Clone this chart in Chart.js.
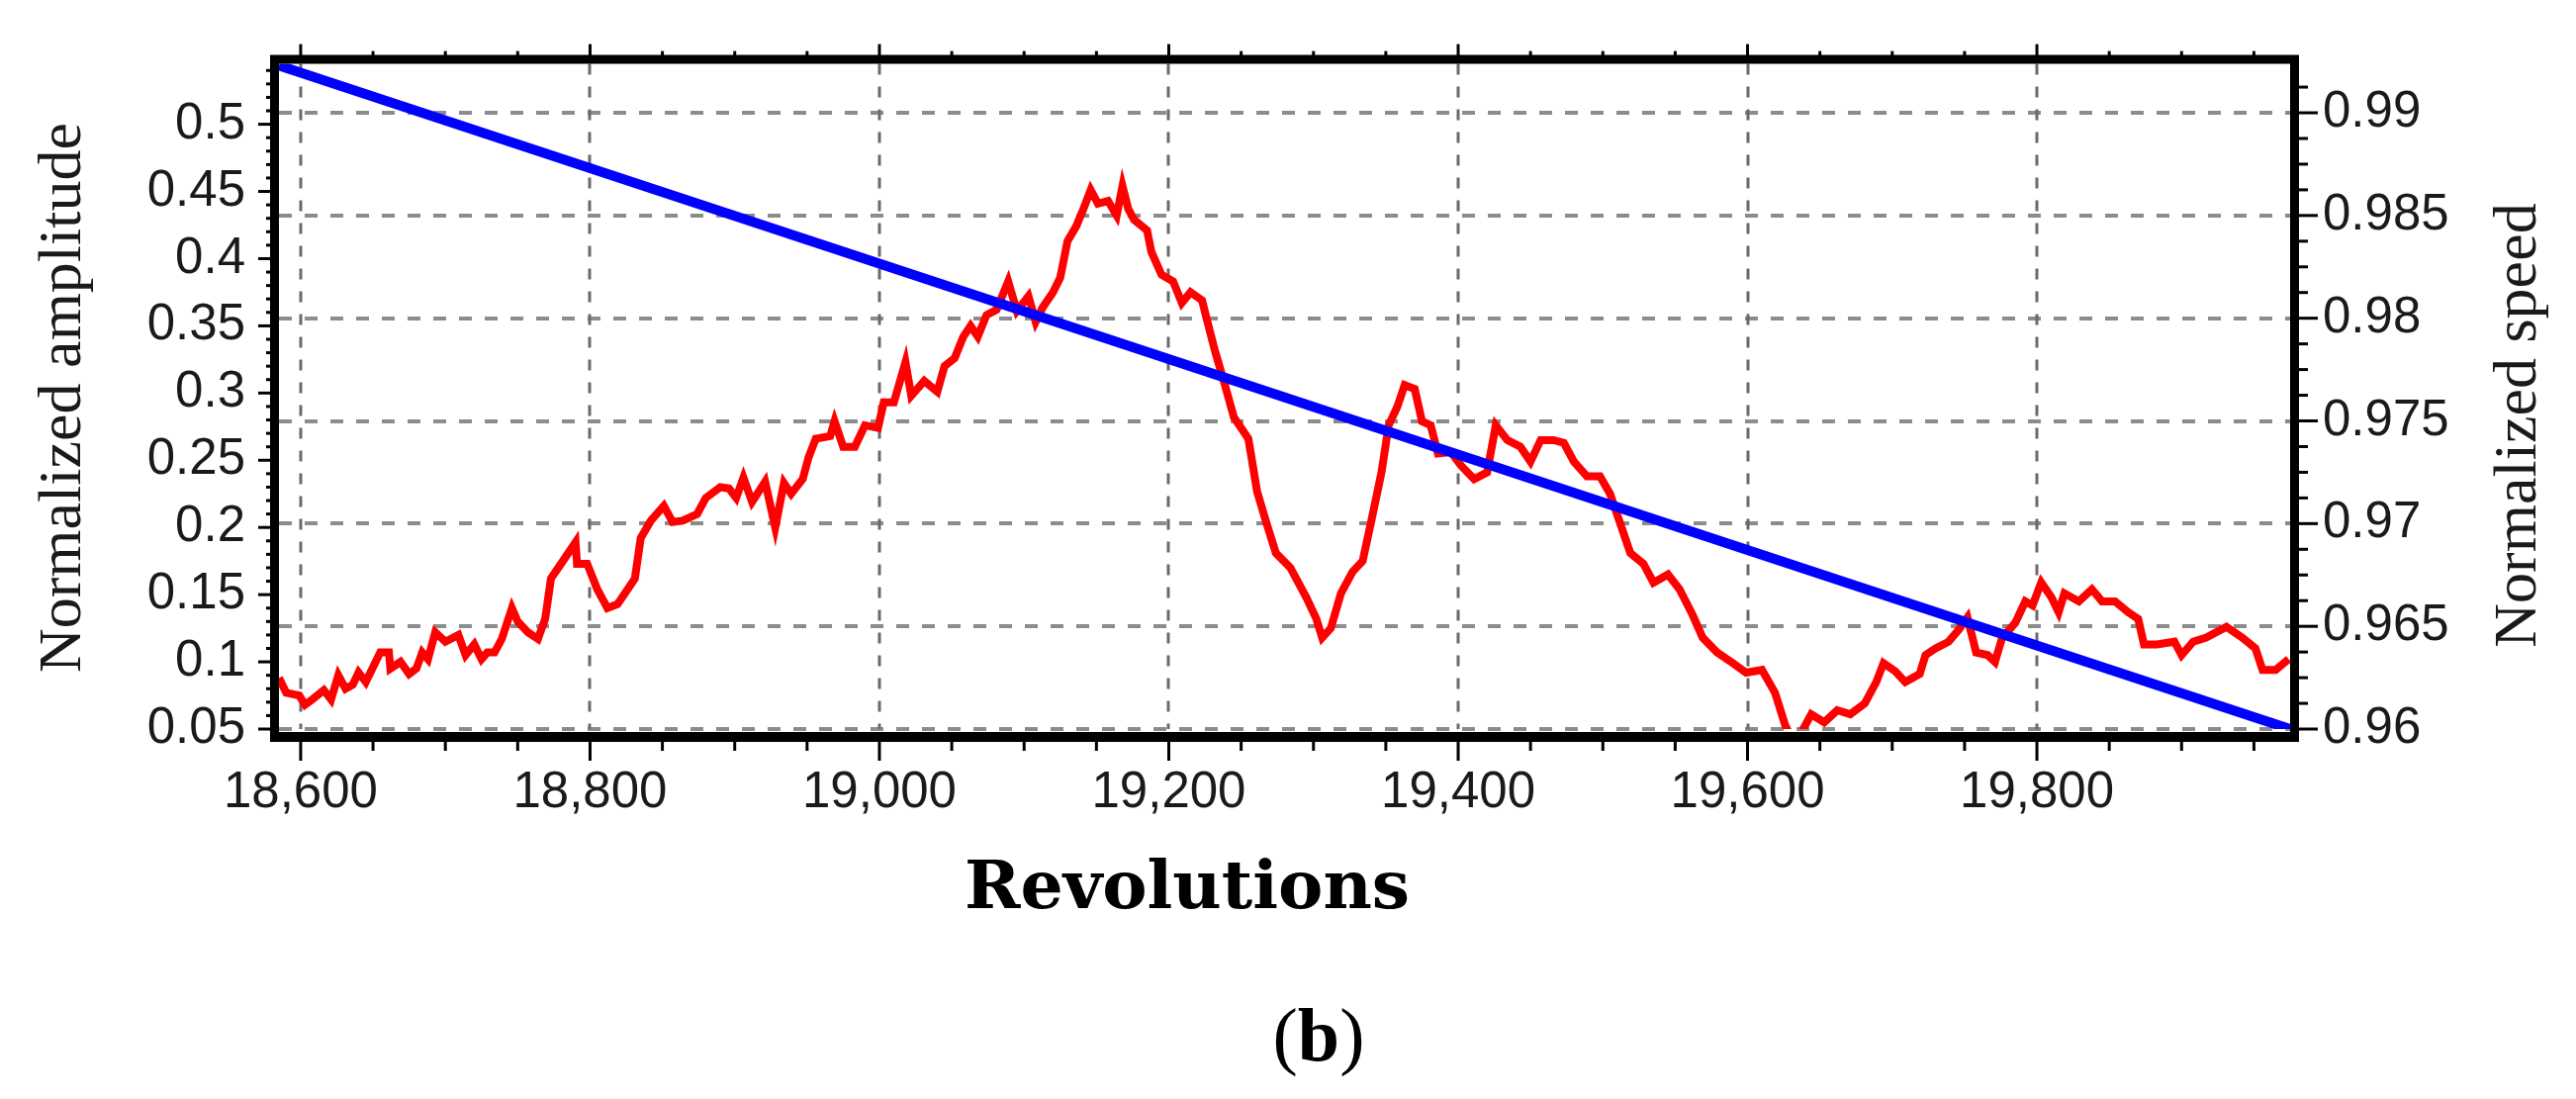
<!DOCTYPE html>
<html lang="en">
<head>
  <meta charset="UTF-8" />
  <title>Normalized amplitude and speed vs revolutions</title>
  <script src="https://cdn.jsdelivr.net/npm/chart.js"></script>
  <style>
    html, body { margin: 0; padding: 0; background: #fff; }
    #wrap { position: relative; width: 2604px; height: 1111px; }
  </style>
</head>
<body>
  <div id="wrap"><canvas id="chart"></canvas></div>
  <script>
    // red trace: normalized amplitude (left axis)
    const ampRev = [18585, 18590, 18599, 18603, 18608, 18616, 18621, 18626, 18631, 18636, 18640, 18645, 18650, 18655, 18661, 18662, 18669, 18675, 18680, 18684, 18688, 18693, 18700, 18709, 18714, 18720, 18725, 18729, 18734, 18739, 18746, 18750, 18757, 18764, 18769, 18773, 18780, 18790, 18791, 18798, 18805, 18812, 18819, 18826, 18831, 18835, 18842, 18851, 18857, 18864, 18874, 18880, 18890, 18896, 18901, 18906, 18912, 18921, 18928, 18934, 18939, 18947, 18951, 18956, 18966, 18969, 18975, 18983, 18990, 18999, 19003, 19010, 19018, 19022, 19031, 19040, 19045, 19052, 19058, 19063, 19068, 19074, 19081, 19089, 19095, 19103, 19108, 19113, 19120, 19125, 19130, 19136, 19141, 19146, 19151, 19158, 19164, 19168, 19172, 19176, 19185, 19188, 19195, 19203, 19209, 19215, 19223, 19226, 19232, 19238, 19245, 19255, 19261, 19267, 19274, 19284, 19295, 19302, 19306, 19312, 19319, 19327, 19334, 19340, 19347, 19352, 19358, 19363, 19370, 19375, 19381, 19386, 19395, 19402, 19411, 19420, 19426, 19434, 19443, 19450, 19457, 19466, 19473, 19480, 19489, 19498, 19505, 19512, 19519, 19528, 19535, 19545, 19553, 19562, 19569, 19579, 19590, 19599, 19610, 19619, 19626, 19630, 19637, 19644, 19653, 19662, 19671, 19681, 19689, 19694, 19702, 19709, 19719, 19723, 19730, 19739, 19746, 19752, 19758, 19766, 19771, 19776, 19785, 19792, 19797, 19803, 19810, 19815, 19819, 19829, 19838, 19845, 19854, 19863, 19870, 19874, 19883, 19895, 19900, 19908, 19917, 19931, 19942, 19951, 19956, 19965, 19974];
    const ampVal = [0.088, 0.077, 0.075, 0.068, 0.072, 0.079, 0.072, 0.090, 0.080, 0.083, 0.092, 0.085, 0.096, 0.107, 0.107, 0.095, 0.100, 0.091, 0.095, 0.107, 0.102, 0.122, 0.115, 0.120, 0.105, 0.113, 0.102, 0.107, 0.107, 0.117, 0.140, 0.130, 0.122, 0.117, 0.132, 0.162, 0.173, 0.189, 0.173, 0.173, 0.154, 0.140, 0.143, 0.154, 0.162, 0.192, 0.205, 0.216, 0.204, 0.205, 0.210, 0.222, 0.230, 0.229, 0.222, 0.237, 0.219, 0.234, 0.200, 0.233, 0.225, 0.236, 0.252, 0.266, 0.268, 0.279, 0.260, 0.260, 0.276, 0.274, 0.293, 0.293, 0.323, 0.298, 0.309, 0.301, 0.320, 0.326, 0.342, 0.350, 0.342, 0.358, 0.362, 0.383, 0.361, 0.372, 0.353, 0.364, 0.375, 0.386, 0.413, 0.424, 0.437, 0.451, 0.441, 0.443, 0.432, 0.454, 0.437, 0.429, 0.421, 0.405, 0.388, 0.383, 0.367, 0.375, 0.369, 0.356, 0.331, 0.309, 0.282, 0.266, 0.227, 0.205, 0.181, 0.170, 0.148, 0.132, 0.118, 0.125, 0.151, 0.167, 0.175, 0.205, 0.241, 0.276, 0.290, 0.306, 0.303, 0.279, 0.276, 0.255, 0.256, 0.246, 0.236, 0.241, 0.276, 0.265, 0.260, 0.249, 0.265, 0.265, 0.263, 0.249, 0.238, 0.238, 0.225, 0.203, 0.181, 0.173, 0.159, 0.165, 0.154, 0.135, 0.118, 0.107, 0.099, 0.092, 0.094, 0.077, 0.053, 0.044, 0.047, 0.061, 0.055, 0.064, 0.061, 0.069, 0.085, 0.099, 0.093, 0.085, 0.091, 0.105, 0.110, 0.115, 0.124, 0.133, 0.107, 0.105, 0.100, 0.118, 0.129, 0.145, 0.142, 0.159, 0.148, 0.137, 0.151, 0.145, 0.154, 0.145, 0.145, 0.137, 0.132, 0.113, 0.113, 0.115, 0.105, 0.115, 0.118, 0.126, 0.118, 0.110, 0.094, 0.094, 0.102];

    // blue trace: normalized speed (right axis)
    const speedRev = [18585, 19975];
    const speedVal = [0.9923, 0.9600];

    // tick labels
    const revTicks = [18600, 18800, 19000, 19200, 19400, 19600, 19800];
    const ampTicks = [0.05, 0.1, 0.15, 0.2, 0.25, 0.3, 0.35, 0.4, 0.45, 0.5];
    const speedTicks = [0.96, 0.965, 0.97, 0.975, 0.98, 0.985, 0.99];

    const tickFont = { family: 'Liberation Sans, Arial, sans-serif', size: 51 };
    const fmt = v => String(+v.toFixed(4));

    // grid, frame, minor ticks and titles
    const decor = {
      id: 'decor',
      beforeDatasetsDraw(chart) {
        const { ctx, chartArea: a, scales: { x, yR } } = chart;
        ctx.save();
        ctx.lineWidth = 4;
        ctx.strokeStyle = '#8c8c8c';
        ctx.setLineDash([13, 13]);
        speedTicks.forEach(v => {
          const py = Math.round(yR.getPixelForValue(v));
          ctx.beginPath(); ctx.moveTo(a.left, py); ctx.lineTo(a.right, py); ctx.stroke();
        });
        ctx.lineWidth = 3;
        ctx.strokeStyle = '#6a6a6a';
        ctx.setLineDash([11, 12]);
        revTicks.forEach(v => {
          const px = Math.round(x.getPixelForValue(v));
          ctx.beginPath(); ctx.moveTo(px, a.top); ctx.lineTo(px, a.bottom); ctx.stroke();
        });
        ctx.restore();
      },
      afterDatasetsDraw(chart) {
        const { ctx, chartArea: a, scales: { x, yL, yR } } = chart;
        ctx.save();
        ctx.strokeStyle = '#000';
        ctx.lineCap = 'butt';

        // ticks
        ctx.lineWidth = 3;
        const tick = (x1, y1, x2, y2) => { ctx.beginPath(); ctx.moveTo(x1, y1); ctx.lineTo(x2, y2); ctx.stroke(); };
        for (let r = 18600; r <= 19975; r += 50) {
          const px = x.getPixelForValue(r);
          const major = r % 200 === 0;
          tick(px, a.bottom + 12, px, a.bottom + (major ? 32 : 22));
          tick(px, a.top - 6, px, a.top - (major ? 20 : 13));
        }
        for (let i = 0; i <= 49; i++) {
          const v = 0.05 + i * 0.01;
          const py = yL.getPixelForValue(v);
          tick(a.left - 6, py, a.left - (i % 5 === 0 ? 21 : 13), py);
        }
        for (let i = 0; i <= 25; i++) {
          const v = 0.96 + i * 0.00125;
          const py = yR.getPixelForValue(v);
          tick(a.right + 5, py, a.right + (i % 4 === 0 ? 28 : 18), py);
        }

        // frame: left, top, right hug the plot, bottom sits just below the last grid line
        ctx.lineWidth = 9;
        ctx.beginPath();
        ctx.moveTo(a.left - 4.5, a.bottom + 13);
        ctx.lineTo(a.left - 4.5, a.top - 4.5);
        ctx.lineTo(a.right + 4.5, a.top - 4.5);
        ctx.lineTo(a.right + 4.5, a.bottom + 13);
        ctx.stroke();
        ctx.lineWidth = 10;
        ctx.beginPath();
        ctx.moveTo(a.left - 9, a.bottom + 8);
        ctx.lineTo(a.right + 9, a.bottom + 8);
        ctx.stroke();
        ctx.restore();
      },
      afterDraw(chart) {
        const { ctx } = chart;
        ctx.save();
        ctx.fillStyle = '#1a1a1a';
        ctx.textAlign = 'center';
        ctx.textBaseline = 'middle';
        ctx.font = '62px "Liberation Serif", "Times New Roman", serif';
        ctx.save(); ctx.translate(65, 402); ctx.rotate(-Math.PI / 2); ctx.fillText('Normalized amplitude', 0, 0); ctx.restore();
        ctx.save(); ctx.translate(2547, 430); ctx.rotate(-Math.PI / 2); ctx.fillText('Normalized speed', 0, 0); ctx.restore();

        ctx.textBaseline = 'alphabetic';
        ctx.fillStyle = '#000';
        ctx.font = 'bold 68px "DejaVu Serif", serif';
        ctx.fillText('Revolutions', 1200, 918);

        // caption (b)
        const reg = '76px "Liberation Serif", serif';
        const bold = 'bold 76px "Liberation Serif", serif';
        ctx.textAlign = 'left';
        ctx.font = reg; const wp = ctx.measureText('(').width; const wq = ctx.measureText(')').width;
        ctx.font = bold; const wb = ctx.measureText('b').width;
        let cx = 1333 - (wp + wb + wq) / 2;
        ctx.font = reg; ctx.fillText('(', cx, 1072); cx += wp;
        ctx.font = bold; ctx.fillText('b', cx, 1072); cx += wb;
        ctx.font = reg; ctx.fillText(')', cx, 1072);
        ctx.restore();
      }
    };

    new Chart(document.getElementById('chart'), {
      type: 'line',
      data: {
        datasets: [
          {
            label: 'Normalized speed',
            data: speedRev.map((r, i) => ({ x: r, y: speedVal[i] })),
            yAxisID: 'yR',
            borderColor: '#0000ff',
            borderWidth: 10,
            pointRadius: 0,
            tension: 0
          },
          {
            label: 'Normalized amplitude',
            data: ampRev.map((r, i) => ({ x: r, y: ampVal[i] })),
            yAxisID: 'yL',
            borderColor: '#ff0000',
            borderWidth: 8,
            borderJoinStyle: 'miter',
            pointRadius: 0,
            tension: 0
          }
        ]
      },
      options: {
        responsive: true,
        maintainAspectRatio: false,
        animation: false,
        events: [],
        layout: { padding: { top: 42, left: 0, right: 0, bottom: 0 } },
        plugins: { legend: { display: false }, tooltip: { enabled: false } },
        scales: {
          x: {
            type: 'linear',
            min: 18585,
            max: 19975,
            afterBuildTicks: s => { s.ticks = revTicks.map(v => ({ value: v })); },
            afterFit: s => { s.height = 374; },
            grid: { display: false, drawTicks: false },
            border: { display: false },
            ticks: {
              autoSkip: false, maxRotation: 0, padding: 34,
              color: '#1a1a1a', font: tickFont,
              callback: v => v.toLocaleString('en-US')
            }
          },
          yL: {
            type: 'linear',
            position: 'left',
            min: 0.05,
            max: 0.5449,
            afterBuildTicks: s => { s.ticks = ampTicks.map(v => ({ value: v })); },
            afterFit: s => { s.width = 282; },
            grid: { display: false, drawTicks: false },
            border: { display: false },
            ticks: { autoSkip: false, padding: 34, color: '#1a1a1a', font: tickFont, callback: fmt }
          },
          yR: {
            type: 'linear',
            position: 'right',
            min: 0.96,
            max: 0.99238,
            afterBuildTicks: s => { s.ticks = speedTicks.map(v => ({ value: v })); },
            afterFit: s => { s.width = 289; },
            grid: { display: false, drawTicks: false },
            border: { display: false },
            ticks: { autoSkip: false, padding: 33, color: '#1a1a1a', font: tickFont, callback: fmt }
          }
        }
      },
      plugins: [decor]
    });
  </script>
</body>
</html>
